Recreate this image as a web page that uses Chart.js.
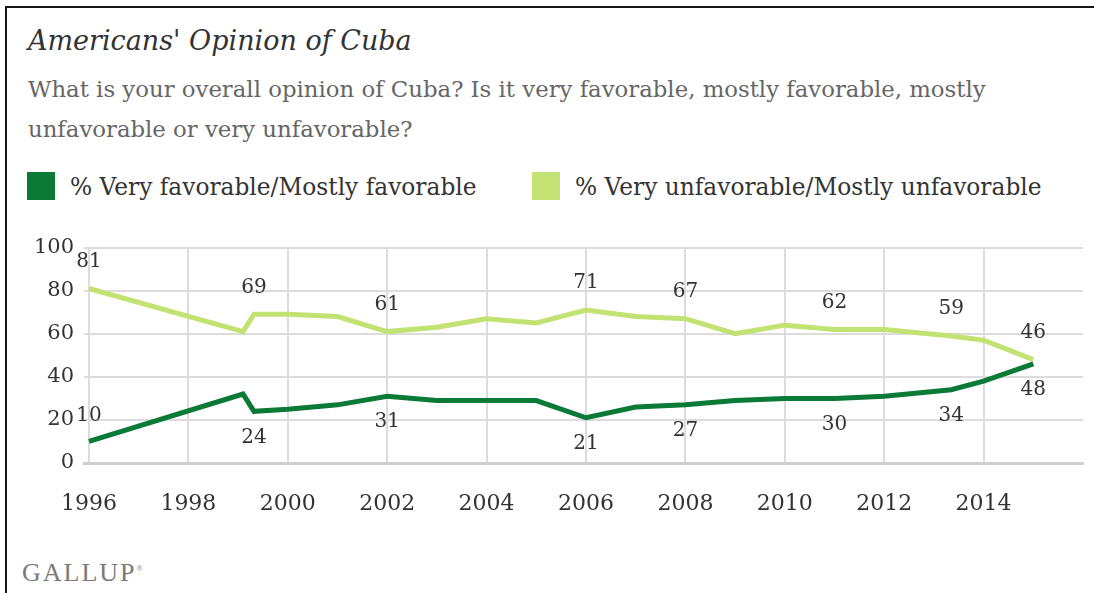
<!DOCTYPE html>
<html lang="en">
<head>
    <meta charset="UTF-8">
    <title>Americans' Opinion of Cuba</title>
    <script src="https://cdn.jsdelivr.net/npm/chart.js"></script>
    <style>
        body {
            margin: 0;
            width: 1094px;
            height: 593px;
            overflow: hidden;
            background: #fff;
            font-family: "DejaVu Serif", serif;
            position: relative;
        }
        .frame {
            position: absolute;
            left: 5px;
            top: 6px;
            width: 1100px;
            height: 600px;
            border-top: 2px solid #151515;
            border-left: 2px solid #151515;
        }
        .title {
            position: absolute;
            left: 28px;
            top: 25px;
            font-size: 27px;
            font-style: italic;
            color: #333;
            white-space: nowrap;
        }
        .subtitle {
            position: absolute;
            left: 28px;
            top: 69px;
            font-size: 22.8px;
            line-height: 40px;
            color: #666;
            white-space: nowrap;
        }
        .legend-item {
            position: absolute;
            top: 172px;
            height: 28px;
            display: flex;
            align-items: center;
            font-size: 23.3px;
            color: #333;
            white-space: nowrap;
        }
        .legend-item span.box {
            display: inline-block;
            width: 28px;
            height: 28px;
            margin-right: 15px;
        }
        .brand {
            position: absolute;
            left: 22px;
            top: 558px;
            font-family: "Liberation Serif", serif;
            font-size: 26px;
            letter-spacing: 2px;
            color: #7a7a7a;
        }
        .brand sup {
            font-size: 8px;
        }
        #chart {
            position: absolute;
            left: 0;
            top: 225px;
        }
    </style>
</head>
<body>
    <div class="frame"></div>
    <div class="title">Americans' Opinion of Cuba</div>
    <div class="subtitle">What is your overall opinion of Cuba? Is it very favorable, mostly favorable, mostly<br>unfavorable or very unfavorable?</div>
    <div class="legend-item" style="left:27px"><span class="box" style="background:#0b7a36"></span>% Very favorable/Mostly favorable</div>
    <div class="legend-item" style="left:532px"><span class="box" style="background:#c2e374"></span>% Very unfavorable/Mostly unfavorable</div>
    <div class="brand">GALLUP<sup>®</sup></div>

    <canvas id="chart" width="1094" height="300"></canvas>

    <script>
        // poll dates (fractional years)
        const years = [1996, 1999.1, 1999.32, 2000, 2001, 2002, 2003, 2004, 2005, 2006, 2007, 2008, 2009, 2010, 2011, 2012, 2013.35, 2014, 2015];
        const favorable = [10, 32, 24, 25, 27, 31, 29, 29, 29, 21, 26, 27, 29, 30, 30, 31, 34, 38, 46];
        const unfavorable = [81, 61, 69, 69, 68, 61, 63, 67, 65, 71, 68, 67, 60, 64, 62, 62, 59, 57, 48];

        // value labels as printed on the chart (above the light line / below the dark line)
        const upperLabels = ['81', null, '69', null, null, '61', null, null, null, '71', null, '67', null, null, '62', null, '59', null, '46'];
        const lowerLabels = ['10', null, '24', null, null, '31', null, null, null, '21', null, '27', null, null, '30', null, '34', null, '48'];

        const xTicks = [1996, 1998, 2000, 2002, 2004, 2006, 2008, 2010, 2012, 2014];

        const DARK = '#0b7a36';
        const LIGHT = '#c2e374';
        const FONT = '"DejaVu Serif", serif';

        const valueLabels = {
            id: 'valueLabels',
            afterDatasetsDraw(chart) {
                const ctx = chart.ctx;
                const favMeta = chart.getDatasetMeta(0);
                const unfavMeta = chart.getDatasetMeta(1);
                ctx.save();
                ctx.font = '20px ' + FONT;
                ctx.fillStyle = '#333';
                ctx.textAlign = 'center';
                ctx.textBaseline = 'middle';
                upperLabels.forEach((txt, i) => {
                    if (!txt) return;
                    const p = unfavMeta.data[i];
                    ctx.fillText(txt, p.x, p.y - 27);
                });
                lowerLabels.forEach((txt, i) => {
                    if (!txt) return;
                    const p = favMeta.data[i];
                    // the first label sits above the line, next to the axis
                    const dy = i === 0 ? -26 : 26;
                    ctx.fillText(txt, p.x, p.y + dy);
                });
                ctx.restore();
            }
        };

        new Chart(document.getElementById('chart').getContext('2d'), {
            type: 'line',
            data: {
                datasets: [
                    {
                        label: '% Very favorable/Mostly favorable',
                        data: years.map((y, i) => ({ x: y, y: favorable[i] })),
                        borderColor: DARK,
                        backgroundColor: DARK,
                        borderWidth: 5,
                        pointRadius: 0,
                        tension: 0,
                        order: 0
                    },
                    {
                        label: '% Very unfavorable/Mostly unfavorable',
                        data: years.map((y, i) => ({ x: y, y: unfavorable[i] })),
                        borderColor: LIGHT,
                        backgroundColor: LIGHT,
                        borderWidth: 5,
                        pointRadius: 0,
                        tension: 0,
                        order: 1
                    }
                ]
            },
            options: {
                responsive: false,
                animation: false,
                layout: {
                    padding: { top: 21, right: 11, left: 0, bottom: 0 }
                },
                plugins: {
                    legend: { display: false },
                    tooltip: { enabled: false }
                },
                scales: {
                    x: {
                        type: 'linear',
                        min: 1995.9,
                        max: 2016,
                        afterBuildTicks: scale => {
                            scale.ticks = xTicks.map(v => ({ value: v }));
                        },
                        afterFit: scale => {
                            scale.height = 62;
                        },
                        grid: {
                            color: '#dcdcdc',
                            lineWidth: 2,
                            drawTicks: false
                        },
                        border: {
                            display: true,
                            color: '#cfcfcf',
                            width: 3
                        },
                        ticks: {
                            autoSkip: false,
                            maxRotation: 0,
                            padding: 28,
                            color: '#333',
                            font: { family: FONT, size: 22 },
                            callback: v => String(v)
                        }
                    },
                    y: {
                        min: 0,
                        max: 100,
                        afterFit: scale => {
                            scale.width = 84;
                        },
                        grid: {
                            color: '#dcdcdc',
                            lineWidth: 2,
                            drawTicks: false
                        },
                        border: { display: false },
                        ticks: {
                            stepSize: 20,
                            padding: 10,
                            color: '#333',
                            font: { family: FONT, size: 21 }
                        }
                    }
                }
            },
            plugins: [valueLabels]
        });
    </script>
</body>
</html>
